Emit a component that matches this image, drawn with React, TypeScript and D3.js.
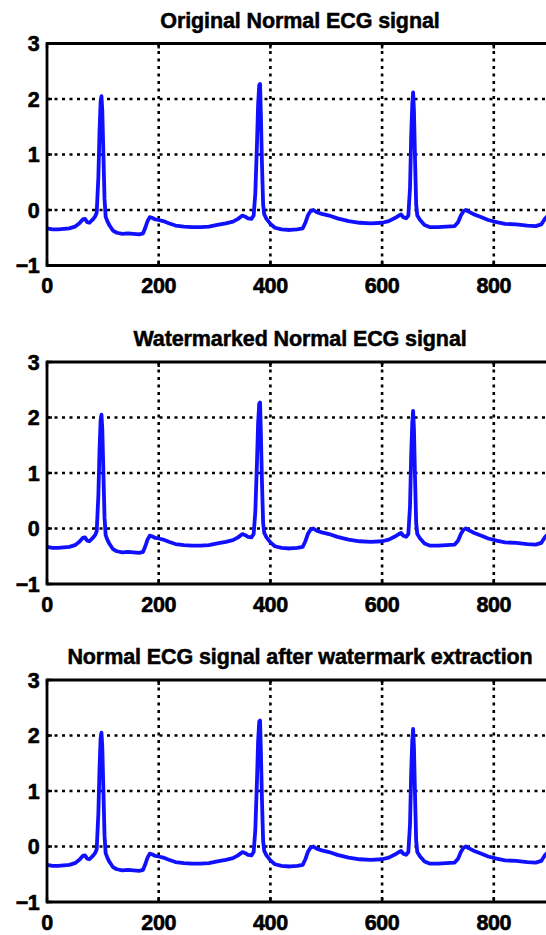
import React from "react";
import * as d3 from "d3";

const titles = [
  "Original Normal ECG signal",
  "Watermarked Normal ECG signal",
  "Normal ECG signal after watermark extraction",
];
const xTicks = [0, 200, 400, 600, 800];
const yTicks = [-1, 0, 1, 2, 3];
const xGrid = [200, 400, 600, 800];
const yGrid = [0, 1, 2];

const sampleIdx = [
  0, 10, 20, 30, 40, 50, 58, 64, 68, 72, 76, 82, 86, 89, 92, 94, 96, 97.5, 99, 101, 103, 105, 108, 112, 118, 125,
  135, 145, 155, 165, 172, 176, 180, 184, 188, 194, 200, 208, 218, 230, 245, 260, 275, 290, 305, 320, 333, 342,
  350, 355, 360, 366, 370, 373, 376, 378, 380, 381.5, 383, 385, 387, 389, 393, 400, 408, 420, 435, 448, 458, 463,
  467, 472, 477, 483, 492, 505, 520, 540, 560, 580, 600, 612, 622, 630, 634, 638, 643, 647, 650, 652, 654, 655.5,
  657, 659, 661, 663, 668, 676, 686, 700, 715, 730, 736, 741, 746, 750, 755, 765, 778, 790, 805, 820, 840, 860,
  875, 885, 892, 900, 906,
];
const ecgValues = [
  -0.33, -0.35, -0.35, -0.34, -0.33, -0.3, -0.24, -0.17, -0.16, -0.22, -0.23, -0.17, -0.12, -0.05, 0.6, 1.4, 1.95,
  2.05, 1.8, 1.0, 0.2, -0.12, -0.2, -0.28, -0.37, -0.41, -0.43, -0.42, -0.43, -0.44, -0.42, -0.32, -0.2, -0.13,
  -0.14, -0.17, -0.18, -0.2, -0.24, -0.28, -0.3, -0.31, -0.31, -0.3, -0.27, -0.24, -0.21, -0.16, -0.1, -0.12,
  -0.15, -0.16, -0.1, 0.3, 1.2, 1.9, 2.25, 2.27, 1.7, 0.8, 0.1, -0.08, -0.16, -0.25, -0.32, -0.35, -0.36, -0.35,
  -0.33, -0.22, -0.1, -0.02, 0.0, -0.04, -0.07, -0.1, -0.15, -0.2, -0.23, -0.24, -0.23, -0.2, -0.15, -0.1, -0.08,
  -0.13, -0.15, -0.1, 0.4, 1.3, 1.9, 2.12, 1.8, 0.9, 0.1, -0.1, -0.18, -0.27, -0.31, -0.31, -0.3, -0.29, -0.22,
  -0.1, -0.02, 0.0, -0.03, -0.08, -0.13, -0.18, -0.22, -0.25, -0.26, -0.28, -0.29, -0.26, -0.15, -0.08, -0.05,
];

const W = 546;
const H = 935;
const left = 47;
const right = 553;
const panelTops = [43.5, 362, 680];
const panelH = 222;
const FONT = "'Liberation Sans', Arial, Helvetica, sans-serif";

function Panel({ top, title }: { top: number; title: string }) {
  const x = d3.scaleLinear().domain([0, 906]).range([left, right]);
  const y = d3.scaleLinear().domain([-1, 3]).range([top + panelH, top]);
  const pts: [number, number][] = sampleIdx.map((s, i) => [s, ecgValues[i]]);
  const line = d3
    .line<[number, number]>()
    .x((d) => x(d[0]))
    .y((d) => y(d[1]));
  const bottom = top + panelH;
  return (
    <g>
      <text
        x={300}
        y={top - 16}
        textAnchor="middle"
        fontFamily={FONT}
        fontWeight="bold"
        fontSize={21.5}
        letterSpacing={-0.1}
        fill="#000"
        stroke="#000"
        strokeWidth={0.5}
      >
        {title}
      </text>
      {xGrid.map((v) => (
        <line
          key={"xg" + v}
          x1={x(v)}
          x2={x(v)}
          y1={top}
          y2={bottom}
          stroke="#000"
          strokeWidth={2.6}
          strokeDasharray="3,4.5"
        />
      ))}
      {yGrid.map((v) => (
        <line
          key={"yg" + v}
          x1={left}
          x2={right}
          y1={y(v)}
          y2={y(v)}
          stroke="#000"
          strokeWidth={2.6}
          strokeDasharray="3,4.5"
        />
      ))}
      <path d={line(pts) || ""} fill="none" stroke="#1010ff" strokeWidth={3.8} strokeLinejoin="round" />
      {xTicks.map((v) => (
        <g key={"xt" + v}>
          <line x1={x(v)} x2={x(v)} y1={top} y2={top + 5} stroke="#000" strokeWidth={2.4} />
          <line x1={x(v)} x2={x(v)} y1={bottom} y2={bottom - 5} stroke="#000" strokeWidth={2.4} />
          <text
            x={x(v)}
            y={bottom + 27.5}
            textAnchor="middle"
            fontFamily={FONT}
            fontWeight="bold"
            fontSize={21.5}
            letterSpacing={-0.4}
            fill="#000"
            stroke="#000"
            strokeWidth={0.6}
          >
            {v}
          </text>
        </g>
      ))}
      {yTicks.map((v) => (
        <g key={"yt" + v}>
          <line x1={left} x2={left + 5} y1={y(v)} y2={y(v)} stroke="#000" strokeWidth={2.4} />
          <text
            x={39}
            y={y(v) + 7.5}
            textAnchor="end"
            fontFamily={FONT}
            fontWeight="bold"
            fontSize={21.5}
            letterSpacing={-0.6}
            fill="#000"
            stroke="#000"
            strokeWidth={0.6}
          >
            {v < 0 ? "\u2212" + Math.abs(v) : v}
          </text>
        </g>
      ))}
      <line x1={left} x2={right} y1={top} y2={top} stroke="#000" strokeWidth={2.8} />
      <line x1={left} x2={right} y1={bottom} y2={bottom} stroke="#000" strokeWidth={2.8} />
      <line x1={left} x2={left} y1={top - 1.4} y2={bottom + 1.4} stroke="#000" strokeWidth={2.8} />
      <line x1={right} x2={right} y1={top - 1.4} y2={bottom + 1.4} stroke="#000" strokeWidth={2.8} />
    </g>
  );
}

export default function App() {
  return (
    <svg
      width={W}
      height={H}
      style={{ position: "absolute", left: 0, top: 0, background: "#fff" }}
    >
      <rect x={0} y={0} width={W} height={H} fill="#fff" />
      {panelTops.map((t, i) => (
        <Panel key={i} top={t} title={titles[i]} />
      ))}
    </svg>
  );
}
